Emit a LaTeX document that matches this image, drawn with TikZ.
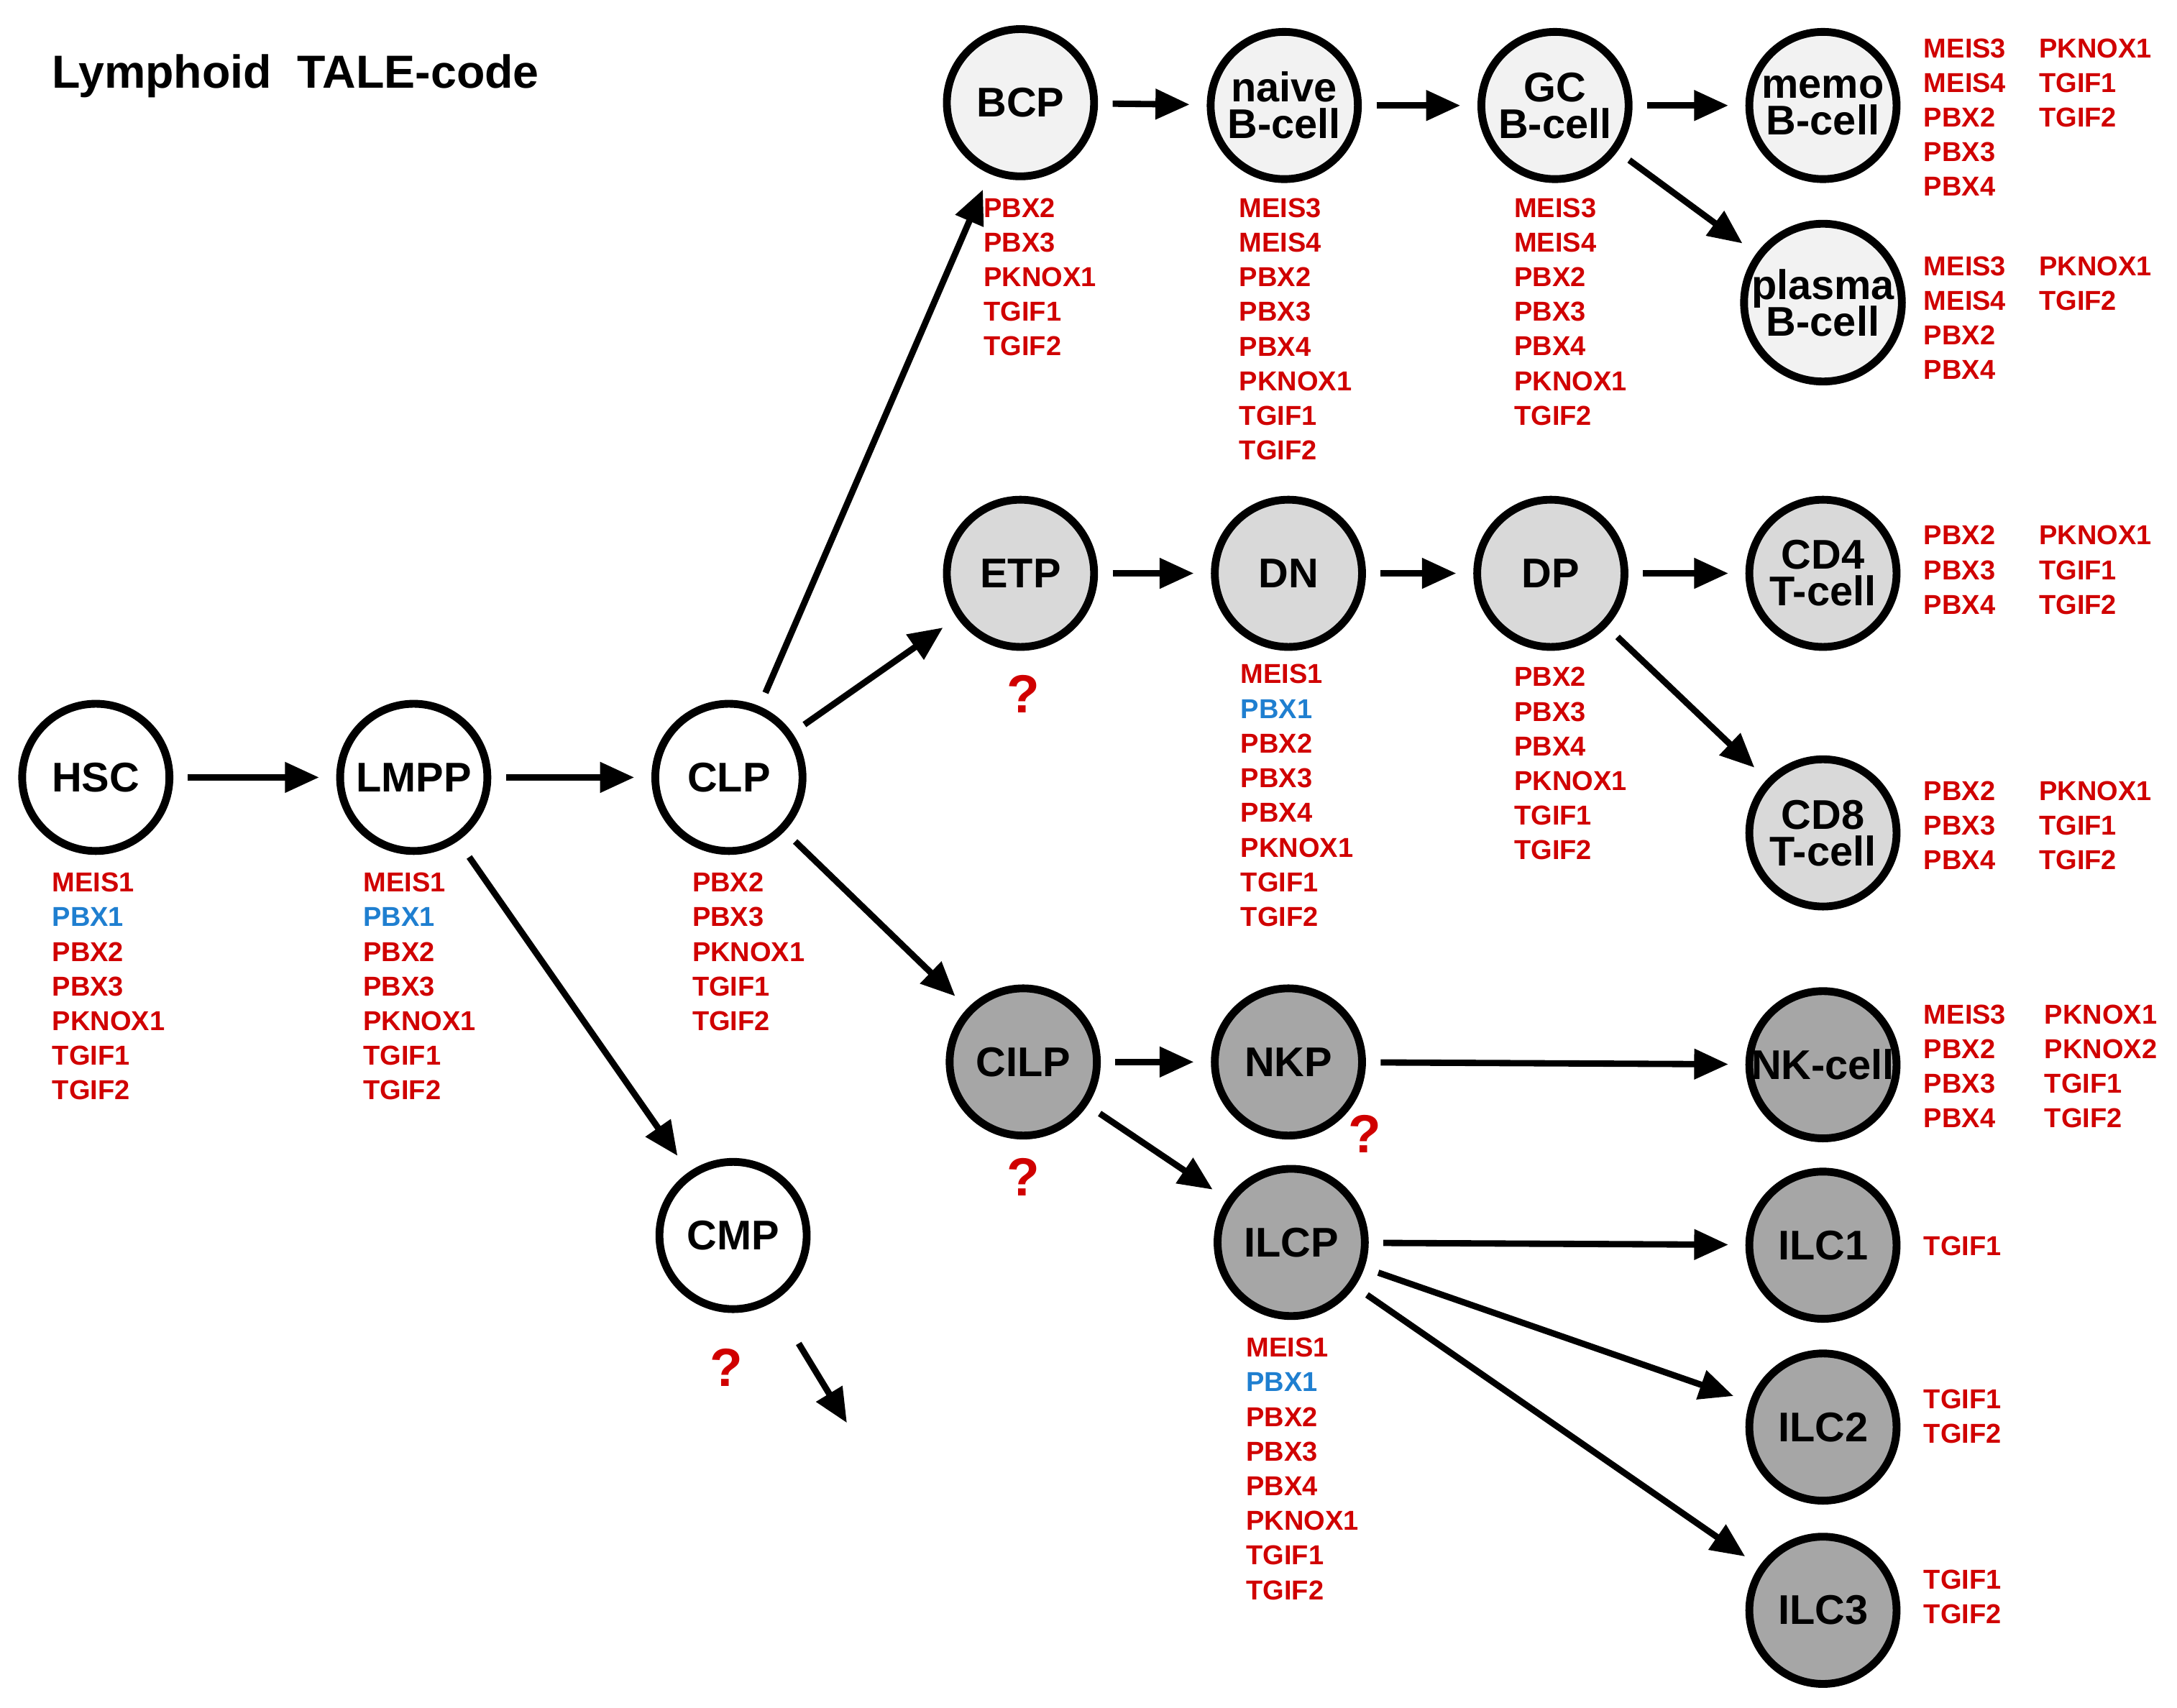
\documentclass[tikz,border=0pt]{standalone}
\usepackage{fontspec}
\setmainfont{Liberation Sans}
\usetikzlibrary{arrows.meta}
\definecolor{gr}{HTML}{D00000}
\definecolor{gb}{HTML}{1F7FD0}
\definecolor{fB}{HTML}{F2F2F2}
\definecolor{fT}{HTML}{D9D9D9}
\definecolor{fI}{HTML}{A6A6A6}
\newcommand{\bb}[1]{\textcolor{gb}{#1}}
\begin{document}
\begin{tikzpicture}[x=0.01cm,y=-0.01cm,
 cell/.style={circle,draw,line width=1.6pt,minimum size=1.06cm,inner sep=0pt,align=center,font=\bfseries\fontsize{8.5}{8.5}\selectfont},
 gene/.style={anchor=north west,inner sep=0pt,align=left,text=gr,font=\bfseries\fontsize{5.6}{7.1}\selectfont},
 qm/.style={text=gr,font=\bfseries\fontsize{11}{11}\selectfont},
 arr/.style={line width=1.3pt,-{Triangle[length=7pt,width=6pt]},shorten <=3pt,shorten >=3.5pt}]
\useasboundingbox (0,0) rectangle (1568,1230);
\node[anchor=west,font=\bfseries\fontsize{9.5}{9.5}\selectfont] (title) at (25,55) {Lymphoid\ \ TALE-code};
\node[cell,fill=white] (hsc) at (69,560) {HSC};
\node[cell,fill=white] (lmpp) at (298,560) {LMPP};
\node[cell,fill=white] (clp) at (525,560) {CLP};
\node[cell,fill=white] (cmp) at (528,890) {CMP};
\node[cell,fill=fB] (bcp) at (735,74) {BCP};
\node[cell,fill=fB] (naive) at (925,76) {naive\\[-1pt]B-cell};
\node[cell,fill=fB] (gc) at (1120,76) {GC\\[-1pt]B-cell};
\node[cell,fill=fB] (memo) at (1313,76) {memo\\[-1pt]B-cell};
\node[cell,fill=fB] (plasma) at (1313,218) {plasma\\[-1pt]B-cell};
\node[cell,fill=fT] (etp) at (735,413) {ETP};
\node[cell,fill=fT] (dn) at (928,413) {DN};
\node[cell,fill=fT] (dp) at (1117,413) {DP};
\node[cell,fill=fT] (cd4) at (1313,413) {CD4\\[-1pt]T-cell};
\node[cell,fill=fT] (cd8) at (1313,600) {CD8\\[-1pt]T-cell};
\node[cell,fill=fI] (cilp) at (737,765) {CILP};
\node[cell,fill=fI] (nkp) at (928,765) {NKP};
\node[cell,fill=fI] (nk) at (1313,767) {NK-cell};
\node[cell,fill=fI] (ilcp) at (930,895) {ILCP};
\node[cell,fill=fI] (ilc1) at (1313,897) {ILC1};
\node[cell,fill=fI] (ilc2) at (1313,1028) {ILC2};
\node[cell,fill=fI] (ilc3) at (1313,1160) {ILC3};
\coordinate (cmpout) at (610,1025);
% genes
\node[gene] (g1) at (37,628) {MEIS1\\\bb{PBX1}\\PBX2\\PBX3\\PKNOX1\\TGIF1\\TGIF2};
\node[gene] (g2) at (261,628) {MEIS1\\\bb{PBX1}\\PBX2\\PBX3\\PKNOX1\\TGIF1\\TGIF2};
\node[gene] (g3) at (498,628) {PBX2\\PBX3\\PKNOX1\\TGIF1\\TGIF2};
\node[gene] (g4) at (708,142) {PBX2\\PBX3\\PKNOX1\\TGIF1\\TGIF2};
\node[gene] (g5) at (892,142) {MEIS3\\MEIS4\\PBX2\\PBX3\\PBX4\\PKNOX1\\TGIF1\\TGIF2};
\node[gene] (g6) at (1090,142) {MEIS3\\MEIS4\\PBX2\\PBX3\\PBX4\\PKNOX1\\TGIF2};
\node[gene] (g7) at (1385,27) {MEIS3\\MEIS4\\PBX2\\PBX3\\PBX4};
\node[gene] (g7b) at (1468,27) {PKNOX1\\TGIF1\\TGIF2};
\node[gene] (g8) at (1385,184) {MEIS3\\MEIS4\\PBX2\\PBX4};
\node[gene] (g8b) at (1468,184) {PKNOX1\\TGIF2};
\node[gene] (g9) at (893,478) {MEIS1\\\bb{PBX1}\\PBX2\\PBX3\\PBX4\\PKNOX1\\TGIF1\\TGIF2};
\node[gene] (g10) at (1090,480) {PBX2\\PBX3\\PBX4\\PKNOX1\\TGIF1\\TGIF2};
\node[gene] (g11) at (1385,378) {PBX2\\PBX3\\PBX4};
\node[gene] (g11b) at (1468,378) {PKNOX1\\TGIF1\\TGIF2};
\node[gene] (g12) at (1385,562) {PBX2\\PBX3\\PBX4};
\node[gene] (g12b) at (1468,562) {PKNOX1\\TGIF1\\TGIF2};
\node[gene] (g13) at (1385,723) {MEIS3\\PBX2\\PBX3\\PBX4};
\node[gene] (g13b) at (1472,723) {PKNOX1\\PKNOX2\\TGIF1\\TGIF2};
\node[gene] (g14) at (897,963) {MEIS1\\\bb{PBX1}\\PBX2\\PBX3\\PBX4\\PKNOX1\\TGIF1\\TGIF2};
\node[gene] (g15) at (1385,890) {TGIF1};
\node[gene] (g16) at (1385,1000) {TGIF1\\TGIF2};
\node[gene] (g17) at (1385,1130) {TGIF1\\TGIF2};
\node[qm] (q1) at (737,500) {?};
\node[qm] (q2) at (737,848) {?};
\node[qm] (q3) at (983,817) {?};
\node[qm] (q4) at (523,985) {?};
% arrows
\draw[arr] (hsc) -- (lmpp);
\draw[arr] (lmpp) -- (clp);
\draw[arr,shorten <=4pt,shorten >=4pt] (lmpp) -- (cmp);
\draw[arr] (clp) -- (bcp);
\draw[arr] (clp) -- (etp);
\draw[arr] (clp) -- (cilp);
\draw[arr,shorten <=10pt,shorten >=0pt] (cmp) -- (cmpout);
\draw[arr] (bcp) -- (naive);
\draw[arr] (naive) -- (gc);
\draw[arr] (gc) -- (memo);
\draw[arr] (gc) -- (plasma);
\draw[arr] (etp) -- (dn);
\draw[arr] (dn) -- (dp);
\draw[arr] (dp) -- (cd4);
\draw[arr] (dp) -- (cd8);
\draw[arr] (cilp) -- (nkp);
\draw[arr] (cilp) -- (ilcp);
\draw[arr] (nkp) -- (nk);
\draw[arr] (ilcp) -- (ilc1);
\draw[arr] (ilcp) -- (ilc2);
\draw[arr] (ilcp) -- (ilc3);
\end{tikzpicture}
\end{document}
